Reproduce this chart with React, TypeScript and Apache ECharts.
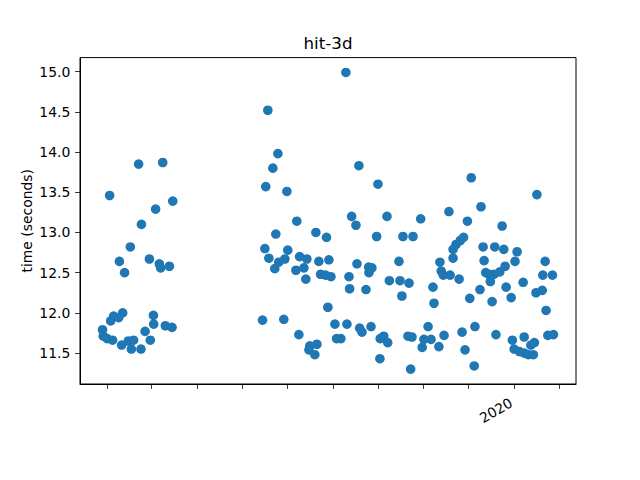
import React, { useEffect, useRef } from "react";
import * as echarts from "echarts";

// Run dates as days since 2019-03-01, and run times in seconds
const START = Date.UTC(2019, 2, 1);
const DAY_MS = 86400000;

const batchADays = [
  32.6, 52.2, 68.5, 75.3, 63.7, 54.1, 46.6, 39.2, 59.5, 42.7, 66.2, 67.1, 73.0, 41.4, 35.3, 33.3,
  38.7, 62.2, 62.4, 70.3, 74.8, 27.8, 28.3, 31.0, 34.6, 56.6, 40.7, 45.2, 48.8, 60.1, 47.3, 53.8,
];
const batchASeconds = [
  13.46, 13.85, 13.87, 13.39, 13.29, 13.1, 12.82, 12.64, 12.67, 12.5, 12.61, 12.56, 12.58, 12.0, 11.96, 11.9,
  11.94, 11.97, 11.86, 11.84, 11.82, 11.79, 11.71, 11.68, 11.66, 11.77, 11.6, 11.65, 11.66, 11.66, 11.55, 11.55,
];

const batchBDays = [
  136.0, 137.6, 138.2, 139.6, 140.3, 143.0, 144.3, 145.0, 146.4, 147.0, 150.4, 151.1, 152.5, 153.1, 158.6,
  159.2, 160.6, 161.1, 164.0, 165.3, 166.0, 167.4, 168.0, 171.4, 172.8, 172.1, 174.1, 175.3, 178.7, 179.3,
  180.2, 180.9, 182.3, 185.0, 186.1, 189.0, 192.4, 193.1, 194.5, 194.9, 196.3, 199.2, 199.9, 201.2, 201.7,
  203.3, 206.0, 207.8, 210.0, 208.0, 209.4, 213.2, 214.1, 215.6, 218.0, 220.7, 215.4, 220.2, 221.8,
];
const batchBSeconds = [
  11.91, 12.8, 13.57, 14.52, 12.68, 13.8, 12.55, 12.98, 13.98, 12.63, 11.92, 12.67, 13.51, 12.78, 12.53,
  13.14, 11.73, 12.7, 12.56, 12.42, 12.67, 11.54, 11.59, 11.48, 11.61, 13.0, 12.64, 12.48, 12.47, 12.94,
  12.07, 12.66, 12.45, 11.86, 11.68, 11.68, 14.99, 11.86, 12.45, 12.3, 13.2, 13.09, 12.61, 13.83, 11.81,
  11.76, 12.29, 12.57, 12.56, 12.5, 11.83, 12.95, 13.6, 11.68, 11.71, 11.63, 11.43, 13.2, 12.4,
];

const batchCDays = [
  229.0, 235.1, 228.3, 230.3, 231.0, 237.8, 234.4, 237.1, 236.2, 243.0, 248.0, 245.2, 250.0, 244.0, 251.3,
  252.0, 255.3, 256.0, 256.9, 258.3, 262.9, 258.8, 262.1, 264.9, 264.9, 266.9, 269.8, 272.0, 269.0, 271.0,
  273.0, 274.6, 276.2, 277.2, 279.7, 279.2, 283.1, 283.8, 285.2, 285.9, 287.0, 289.1, 292.5, 296.5, 290.1,
  291.3, 293.1, 293.9, 298.1, 299.2, 300.1, 300.8, 304.2, 305.0, 306.2, 306.8, 308.2, 309.7, 312.3, 313.0,
  313.1, 315.8, 317.5, 319.2, 319.9, 321.0, 321.6, 325.2, 325.6, 327.2, 327.8, 329.0, 332.1, 332.8,
];
const batchCSeconds = [
  12.4, 12.37, 12.64, 12.21, 12.95, 12.95, 11.71, 11.7, 11.3, 13.17, 11.83, 11.67, 11.67, 11.57, 12.32,
  12.12, 11.58, 12.63, 12.52, 12.47, 12.47, 11.72, 13.26, 12.68, 12.79, 12.85, 12.9, 12.94, 12.42, 11.76,
  11.54, 13.14, 12.18, 13.68, 11.83, 11.34, 12.29, 13.32, 12.82, 12.65, 12.5, 12.48, 12.48, 12.51, 12.39,
  12.14, 12.82, 11.73, 13.08, 12.79, 12.58, 12.32, 12.19, 11.66, 11.55, 12.64, 12.76, 11.52, 12.38, 11.7,
  11.5, 11.48, 11.6, 11.48, 11.63, 12.25, 13.47, 12.28, 12.47, 12.64, 12.03, 11.72, 12.47, 11.73,
];

const monthTicks = [
  "2019-04-01", "2019-05-01", "2019-06-01", "2019-07-01", "2019-08-01", "2019-09-01",
  "2019-10-01", "2019-11-01", "2019-12-01", "2020-01-01", "2020-02-01",
];
const yearLabels = ["2020-01-01"];
const yTicks = [11.5, 12.0, 12.5, 13.0, 13.5, 14.0, 14.5, 15.0];

const FONT = "DejaVu Sans";

export default function App() {
  const ref = useRef<HTMLDivElement>(null);

  useEffect(() => {
    if (!ref.current) return;
    const chart = echarts.init(ref.current, null, { renderer: "svg" });

    const days = [...batchADays, ...batchBDays, ...batchCDays];
    const secs = [...batchASeconds, ...batchBSeconds, ...batchCSeconds];
    const points = days.map((d, i) => [START + d * DAY_MS, secs[i]]);

    const dMin = Math.min(...days);
    const dMax = Math.max(...days);
    const dPad = (dMax - dMin) * 0.05;
    const sMin = Math.min(...secs);
    const sMax = Math.max(...secs);
    const sPad = (sMax - sMin) * 0.05;

    const toTs = (s: string) => {
      const [y, m, d] = s.split("-").map(Number);
      return Date.UTC(y, m - 1, d);
    };

    chart.setOption({
      animation: false,
      backgroundColor: "#fff",
      title: {
        text: "hit-3d",
        left: 328,
        top: 34,
        textAlign: "center",
        padding: 0,
        textStyle: { fontFamily: FONT, fontSize: 16.7, fontWeight: "normal", color: "#000" },
      },
      grid: {
        left: 80,
        right: 64,
        top: 57.6,
        bottom: 96,
        show: true,
        borderColor: "#000",
        borderWidth: 1,
        backgroundColor: "transparent",
      },
      xAxis: {
        type: "value",
        scale: true,
        min: START + (dMin - dPad) * DAY_MS,
        max: START + (dMax + dPad) * DAY_MS,
        axisLine: { show: true, onZero: false, lineStyle: { color: "#000", width: 1 } },
        axisTick: {
          show: true,
          length: 4.9,
          customValues: monthTicks.map(toTs),
          lineStyle: { color: "#000", width: 0.8 },
        },
        axisLabel: {
          customValues: yearLabels.map(toTs),
          formatter: (v: number) => String(new Date(v).getUTCFullYear()),
          rotate: 30,
          margin: 16,
          padding: [0, 3, 0, 0],
          color: "#000",
          fontFamily: FONT,
          fontSize: 13.9,
        },
        splitLine: { show: false },
      },
      yAxis: {
        type: "value",
        scale: true,
        min: sMin - sPad,
        max: sMax + sPad,
        name: "time (seconds)",
        nameLocation: "middle",
        nameGap: 46,
        nameMoveOverlap: false,
        nameTextStyle: { fontFamily: FONT, fontSize: 13.9, color: "#000" },
        axisLine: { show: true, onZero: false, lineStyle: { color: "#000", width: 1 } },
        axisTick: {
          show: true,
          length: 4.9,
          customValues: yTicks,
          lineStyle: { color: "#000", width: 0.8 },
        },
        axisLabel: {
          customValues: yTicks,
          formatter: (v: number) => v.toFixed(1),
          margin: 9.7,
          color: "#000",
          fontFamily: FONT,
          fontSize: 13.9,
        },
        splitLine: { show: false },
      },
      series: [
        {
          type: "scatter",
          data: points,
          symbol: "circle",
          symbolSize: 9.6,
          itemStyle: { color: "#1f77b4", opacity: 1 },
        },
      ],
    });

    return () => chart.dispose();
  }, []);

  return (
    <div
      ref={ref}
      style={{ position: "fixed", left: 0, top: 0, width: 640, height: 480 }}
    />
  );
}
